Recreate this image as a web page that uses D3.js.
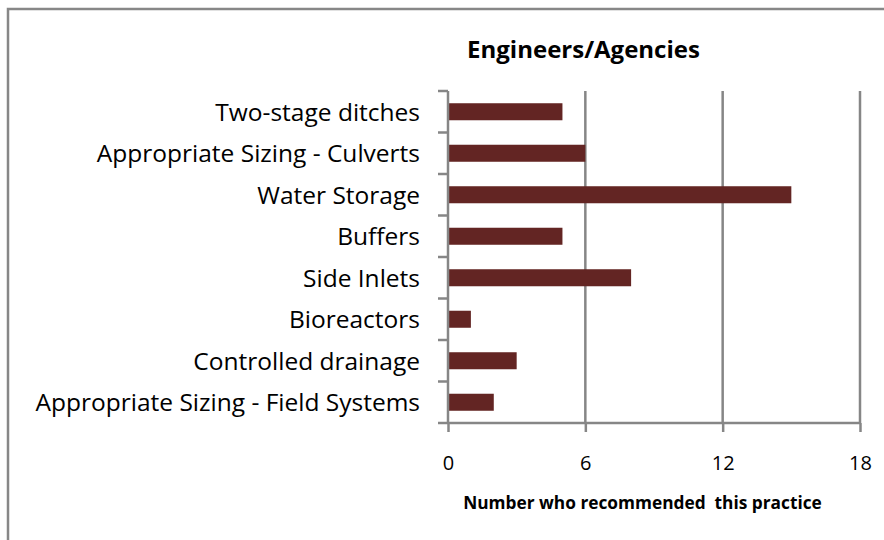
<!DOCTYPE html>
<meta charset="utf-8"/>
<style>
    body { margin: 0; background: #fff; }
    text { font-family: "Open Sans", Lato, sans-serif; fill: #000; }
    .grid line { stroke: #868686; stroke-width: 2.5px; }
</style>
<body>
<svg width="884" height="540"></svg>
</body>
<script src="https://d3js.org/d3.v7.min.js"></script>
<script>

  var categories = ["Two-stage ditches", "Appropriate Sizing - Culverts", "Water Storage",
    "Buffers", "Side Inlets", "Bioreactors", "Controlled drainage",
    "Appropriate Sizing - Field Systems"]
  var counts = [5, 6, 15, 5, 8, 1, 3, 2]
  var xTicks = [0, 6, 12, 18]
  var title = "Engineers/Agencies"
  var xTitle = "Number who recommended  this practice"

  var svg = d3.select("svg")
  var margin = {left: 448, top: 91}
  var plotW = 412, plotH = 332

  // chart frame, only top and left edges show in the picture
  svg.append("path")
    .attr("d", "M8,545V9H890")
    .attr("fill", "none")
    .attr("stroke", "#878787")
    .attr("stroke-width", 2.5)

  var x = d3.scaleLinear().domain([0, 18]).range([0, plotW])
  var y = d3.scaleBand().domain(categories).range([0, plotH]).paddingInner(0.59).paddingOuter(0.295)

  var g = svg.append("g").attr("transform", "translate(" + margin.left + "," + margin.top + ")")

  // vertical gridlines
  g.append("g").attr("class", "grid")
    .selectAll("line")
    .data(xTicks.slice(1))
    .enter().append("line")
    .attr("x1", function (d) { return x(d) })
    .attr("x2", function (d) { return x(d) })
    .attr("y1", 0)
    .attr("y2", plotH)

  g.selectAll(".bar")
    .data(counts)
    .enter().append("rect")
    .attr("class", "bar")
    .attr("x", 1)
    .attr("y", function (d, i) { return y(categories[i]) })
    .attr("width", function (d) { return x(d) - 1 })
    .attr("height", y.bandwidth())
    .attr("fill", "#632523")

  // x axis
  var xAxis = g.append("g").attr("transform", "translate(0," + plotH + ")")
    .call(d3.axisBottom(x).tickValues(xTicks).tickSize(9).tickPadding(24))
  xAxis.attr("font-size", null).attr("font-family", null)
  xAxis.select(".domain").attr("stroke", "#868686").attr("stroke-width", 2.5)
    .attr("d", "M0,0H" + plotW)
  xAxis.selectAll(".tick line").attr("stroke", "#868686").attr("stroke-width", 2.5)
  xAxis.selectAll(".tick text").style("font-size", "20px").attr("fill", "#000")

  // y axis: ticks sit between the categories
  var step = plotH / categories.length
  var yAxis = g.append("g")
  yAxis.append("line")
    .attr("x1", 0).attr("x2", 0).attr("y1", 0).attr("y2", plotH)
    .attr("stroke", "#868686").attr("stroke-width", 2.5)
  yAxis.selectAll(".ytick")
    .data(d3.range(categories.length + 1))
    .enter().append("line")
    .attr("x1", -10).attr("x2", 0)
    .attr("y1", function (d) { return d * step })
    .attr("y2", function (d) { return d * step })
    .attr("stroke", "#868686").attr("stroke-width", 2.5)
  yAxis.selectAll(".ylabel")
    .data(categories)
    .enter().append("text")
    .attr("x", -28)
    .attr("y", function (d) { return y(d) + y.bandwidth() / 2 })
    .attr("dy", "0.36em")
    .attr("text-anchor", "end")
    .style("font-size", "24.5px")
    .text(function (d) { return d })

  svg.append("text")
    .attr("x", 583.5).attr("y", 58)
    .attr("text-anchor", "middle")
    .style("font-size", "24px").style("font-weight", "bold")
    .text(title)

  svg.append("text")
    .attr("x", 642.5).attr("y", 509)
    .attr("text-anchor", "middle")
    .style("font-size", "17.3px").style("font-weight", "bold")
    .style("white-space", "pre")
    .text(xTitle)

</script>
